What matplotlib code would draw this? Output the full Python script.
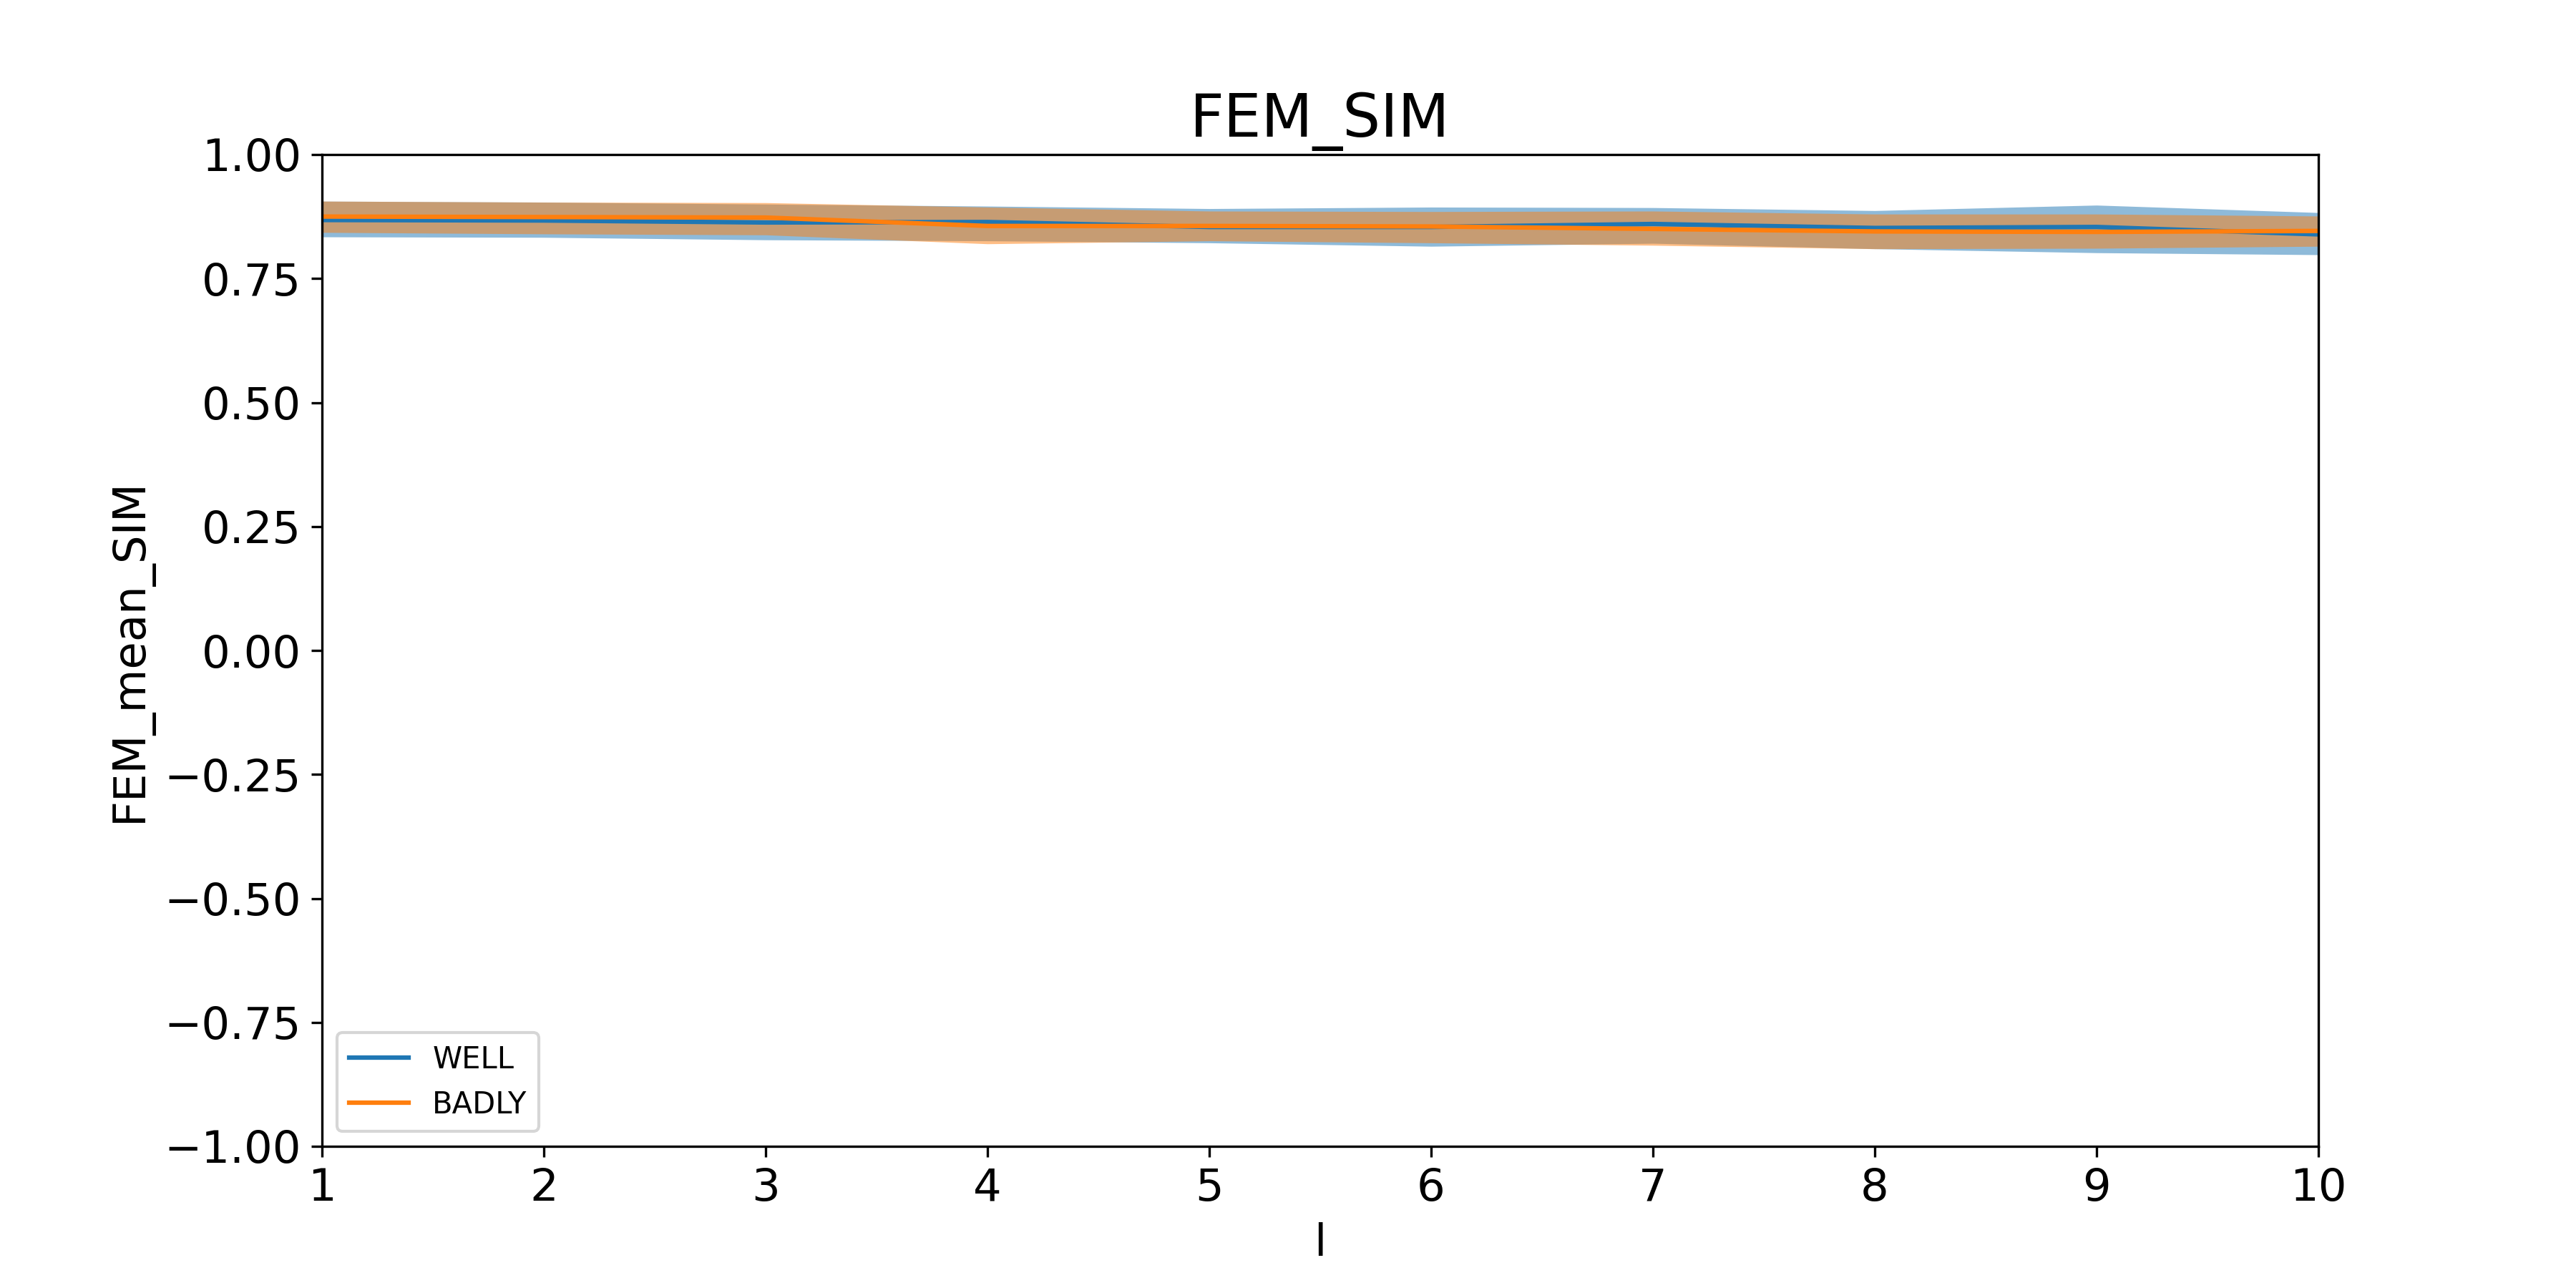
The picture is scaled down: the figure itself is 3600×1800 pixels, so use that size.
import numpy as np
import matplotlib
matplotlib.use('Agg')
import matplotlib.pyplot as plt

# values
l_values = [1, 2, 3, 4, 5, 6, 7, 8, 9, 10]

well_mean = [0.868, 0.867, 0.863, 0.864, 0.854, 0.854, 0.860, 0.852, 0.854, 0.839]
well_lower = [0.834, 0.833, 0.828, 0.826, 0.822, 0.815, 0.821, 0.810, 0.802, 0.798]
well_upper = [0.906, 0.904, 0.900, 0.896, 0.891, 0.894, 0.893, 0.887, 0.898, 0.883]

badly_mean = [0.875, 0.874, 0.873, 0.856, 0.856, 0.855, 0.850, 0.845, 0.844, 0.846]
badly_lower = [0.843, 0.840, 0.838, 0.820, 0.826, 0.822, 0.817, 0.810, 0.811, 0.815]
badly_upper = [0.906, 0.904, 0.903, 0.894, 0.886, 0.885, 0.886, 0.880, 0.880, 0.876]

fig, ax = plt.subplots(figsize=(12, 6), dpi=300)

ax.plot(l_values, well_mean, color='tab:blue', label='WELL')
ax.fill_between(l_values, well_lower, well_upper, color='tab:blue', alpha=0.5, linewidth=0)
ax.plot(l_values, badly_mean, color='tab:orange', label='BADLY')
ax.fill_between(l_values, badly_lower, badly_upper, color='tab:orange', alpha=0.5, linewidth=0)

ax.set_xlim(1, 10)
ax.set_ylim(-1, 1)
ax.set_xticks(l_values)
ax.set_yticks(np.arange(-1, 1.01, 0.25))
ax.tick_params(labelsize=15)
ax.set_title('FEM_SIM', fontsize=20)
ax.set_xlabel('l', fontsize=15)
ax.set_ylabel('FEM_mean_SIM', fontsize=15)
ax.legend(loc='lower left')

plt.savefig('out.png')
